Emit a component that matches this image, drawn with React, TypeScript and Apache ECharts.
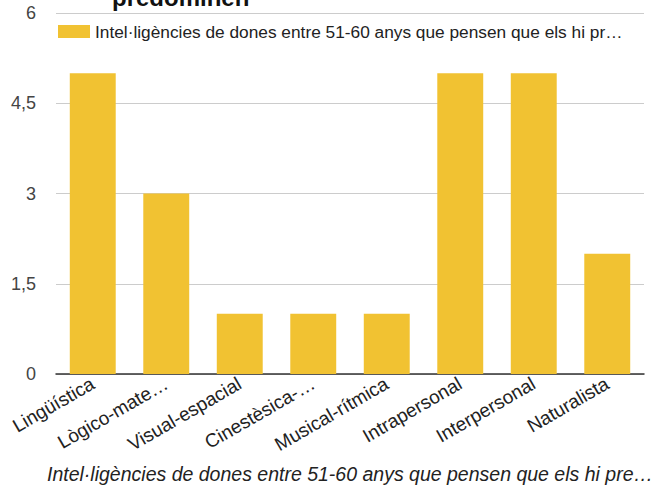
import React, { useEffect, useRef } from "react";
import * as echarts from "echarts";

const categories = [
  "Lingüística",
  "Lògico-mate…",
  "Visual-espacial",
  "Cinestèsica-…",
  "Musical-rítmica",
  "Intrapersonal",
  "Interpersonal",
  "Naturalista",
];
const values = [5, 3, 1, 1, 1, 5, 5, 2];
const seriesName = "Intel·ligències de dones entre 51-60 anys que pensen que els hi pr…";
const axisName = "Intel·ligències de dones entre 51-60 anys que pensen que els hi pre…";
const titleText = "predominen";

export default function App() {
  const ref = useRef<HTMLDivElement>(null);
  useEffect(() => {
    const chart = echarts.init(ref.current!, null, { renderer: "svg" });
    chart.setOption({
      animation: false,
      backgroundColor: "#ffffff",
      textStyle: { fontFamily: "Liberation Sans, Arial, sans-serif" },
      graphic: [
        {
          type: "text",
          x: 112,
          y: 9,
          z: 100,
          style: {
            text: titleText,
            fontSize: 24,
            fontWeight: "bold",
            fill: "#111",
            verticalAlign: "bottom",
            align: "left",
            fontFamily: "Liberation Sans, Arial, sans-serif",
          },
        },
      ],
      legend: {
        left: 53,
        top: 18,
        itemWidth: 32,
        itemHeight: 13,
        icon: "rect",
        textStyle: { fontSize: 17.3, color: "#222" },
        data: [seriesName],
      },
      grid: { left: 56, right: 12, top: 13, bottom: 112, containLabel: false },
      xAxis: {
        type: "category",
        data: categories,
        name: axisName,
        nameLocation: "middle",
        nameGap: 90,
        nameMoveOverlap: false,
        nameTextStyle: { fontStyle: "italic", fontSize: 19.5, color: "#222" },
        axisTick: { show: false },
        axisLine: { lineStyle: { color: "#333", width: 1.5 } },
        axisLabel: { rotate: 30, fontSize: 19, color: "#222", margin: 8, interval: 0 },
      },
      yAxis: {
        type: "value",
        min: 0,
        max: 6,
        interval: 1.5,
        axisLine: { show: false },
        axisTick: { show: false },
        splitLine: { lineStyle: { color: "#cccccc" } },
        axisLabel: {
          fontSize: 18,
          color: "#444",
          margin: 20,
          formatter: (v: number) => String(v).replace(".", ","),
        },
      },
      series: [
        {
          name: seriesName,
          type: "bar",
          data: values,
          barWidth: "62.5%",
          itemStyle: { color: "#f1c232" },
        },
      ],
    });
    return () => chart.dispose();
  }, []);
  return (
    <div
      ref={ref}
      style={{ position: "absolute", left: 0, top: 0, width: 656, height: 489 }}
    />
  );
}
